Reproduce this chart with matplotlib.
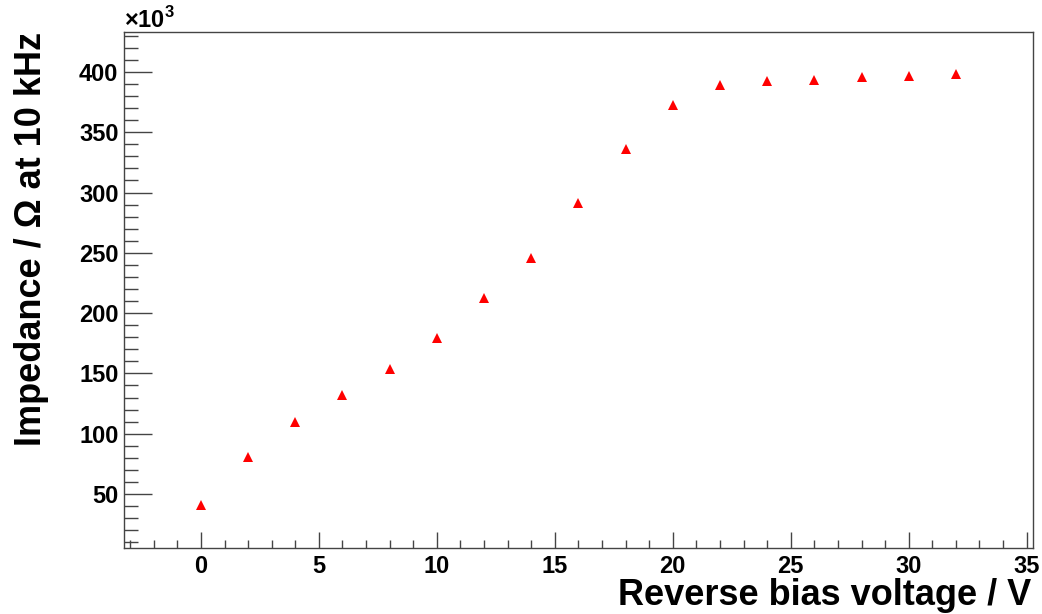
import matplotlib
matplotlib.use("Agg")
import matplotlib.pyplot as plt
from matplotlib.ticker import MultipleLocator

# reverse bias scan, impedance in units of 1e3 Ohm
voltage = [0, 2, 4, 6, 8, 10, 12, 14, 16, 18, 20, 22, 24, 26, 28, 30, 32]
impedance = [40.9, 81.0, 109.5, 132.5, 154.0, 179.0, 212.5, 246.0, 291.0,
             336.0, 372.5, 389.0, 392.5, 393.5, 395.5, 396.5, 398.0]

plt.rcParams['font.family'] = ['Liberation Sans', 'DejaVu Sans']
plt.rcParams['font.weight'] = 'bold'
plt.rcParams['mathtext.fontset'] = 'custom'
plt.rcParams['mathtext.rm'] = 'Liberation Sans:bold'
plt.rcParams['mathtext.bf'] = 'Liberation Sans:bold'

fig = plt.figure(figsize=(10.42, 6.14), dpi=100)
ax = fig.add_axes([0.119, 0.1075, 0.8724, 0.8405])

ax.plot(voltage, impedance, linestyle='none', marker='^', color='red',
        markersize=6.5, markeredgewidth=0)

ax.set_xlim(-3.26, 35.27)
ax.set_ylim(5.2, 433.2)

ax.xaxis.set_major_locator(MultipleLocator(5))
ax.xaxis.set_minor_locator(MultipleLocator(1))
ax.yaxis.set_major_locator(MultipleLocator(50))
ax.yaxis.set_minor_locator(MultipleLocator(10))

ax.tick_params(axis='both', which='both', direction='in', color='#444',
               top=False, right=False, width=1)
ax.tick_params(axis='x', which='major', length=11.5, pad=5, labelsize=17)
ax.tick_params(axis='x', which='minor', length=6)
ax.tick_params(axis='y', which='major', length=20, pad=4, labelsize=17)
ax.tick_params(axis='y', which='minor', length=10)
for lbl in ax.get_xticklabels() + ax.get_yticklabels():
    lbl.set_fontweight('bold')

for s in ax.spines.values():
    s.set_color('#444')
    s.set_linewidth(1)

ax.set_xlabel('Reverse bias voltage / V', fontsize=26, fontweight='bold',
              loc='right')
ax.set_ylabel('Impedance / \u03a9 at 10 kHz', fontsize=26, fontweight='bold',
              loc='top')
ax.xaxis.set_label_coords(0.998, -0.058)
ax.yaxis.set_label_coords(-0.082, 1.0)

fig.text(0.119, 0.954, '$\\times10^{3}$', fontsize=17, ha='left', va='baseline')

fig.savefig('out.png', dpi=100, facecolor='white')
